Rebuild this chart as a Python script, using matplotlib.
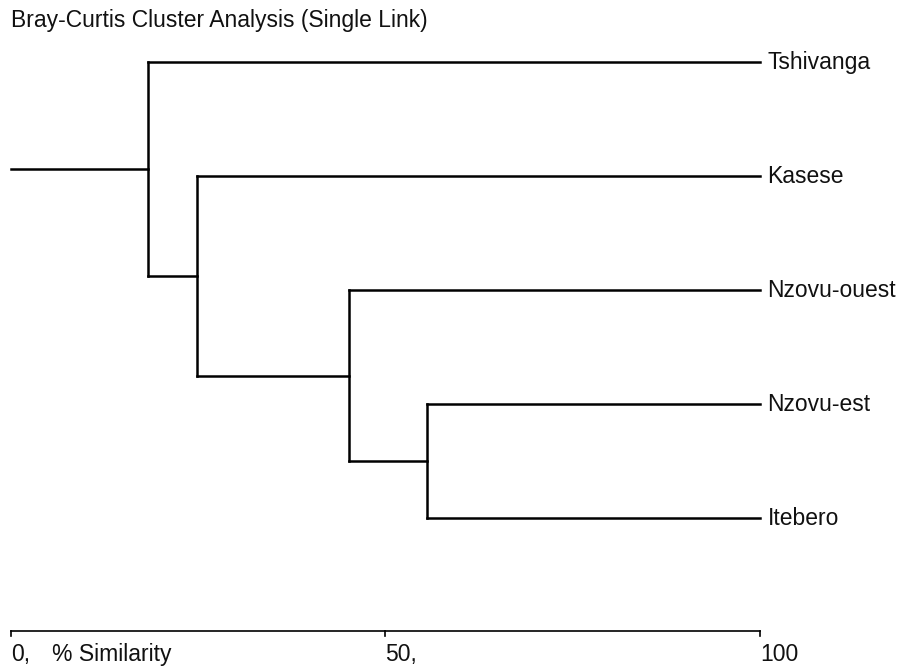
import matplotlib.pyplot as plt

plt.rcParams['font.family'] = ['Liberation Sans', 'DejaVu Sans']

# leaves, top to bottom
leaves = ['Tshivanga', 'Kasese', 'Nzovu-ouest', 'Nzovu-est', 'Itebero']
# merges: (left node, right node, % similarity); nodes 0-4 are leaves, 5+ are clusters
merges = [
    (3, 4, 55.6),
    (2, 5, 45.1),
    (1, 6, 24.8),
    (0, 7, 18.3),
]
ticks = [0, 50, 100]
tick_labels = ['0,', '50,', '100']

fig = plt.figure(figsize=(8.99, 6.71), dpi=100)
ax = fig.add_axes([0, 0, 1, 1])
ax.set_xlim(-1.469, 118.56)
ax.set_ylim(5.342, -0.544)
ax.axis('off')

fs = 16.5
txt_col = '#111111'
lw = 1.8
leaf_sim = 100
# node positions: (similarity, y)
pos = {i: (leaf_sim, i) for i in range(len(leaves))}
for k, (a, b, s) in enumerate(merges):
    node = len(leaves) + k
    for child in (a, b):
        cx, cy = pos[child]
        ax.plot([s, cx], [cy, cy], color='black', lw=lw, solid_capstyle='projecting')
    ya, yb = pos[a][1], pos[b][1]
    ax.plot([s, s], [ya, yb], color='black', lw=lw, solid_capstyle='projecting')
    pos[node] = (s, (ya + yb) / 2)

# root stub
rx, ry = pos[len(leaves) + len(merges) - 1]
ax.plot([0, rx], [ry, ry], color='black', lw=lw, solid_capstyle='projecting')

for i, name in enumerate(leaves):
    ax.text(leaf_sim + 1.0, i, name, fontsize=fs, va='center', ha='left', color=txt_col)

# similarity axis
axis_y = 4.99
ax.plot([ticks[0], ticks[-1]], [axis_y, axis_y], color='black', lw=1.2)
for t, lab in zip(ticks, tick_labels):
    ax.plot([t, t], [axis_y, axis_y + 0.045], color='black', lw=1.2)
    ax.text(t, axis_y + 0.21, lab, fontsize=fs, ha='left', va='center', color=txt_col)
ax.text(5.5, axis_y + 0.21, '% Similarity', fontsize=fs, ha='left', va='center', color=txt_col)

fig.text(11 / 899, 1 - 20 / 671, 'Bray-Curtis Cluster Analysis (Single Link)',
         fontsize=fs, ha='left', va='center', color=txt_col)

plt.savefig('out.png', dpi=100)
